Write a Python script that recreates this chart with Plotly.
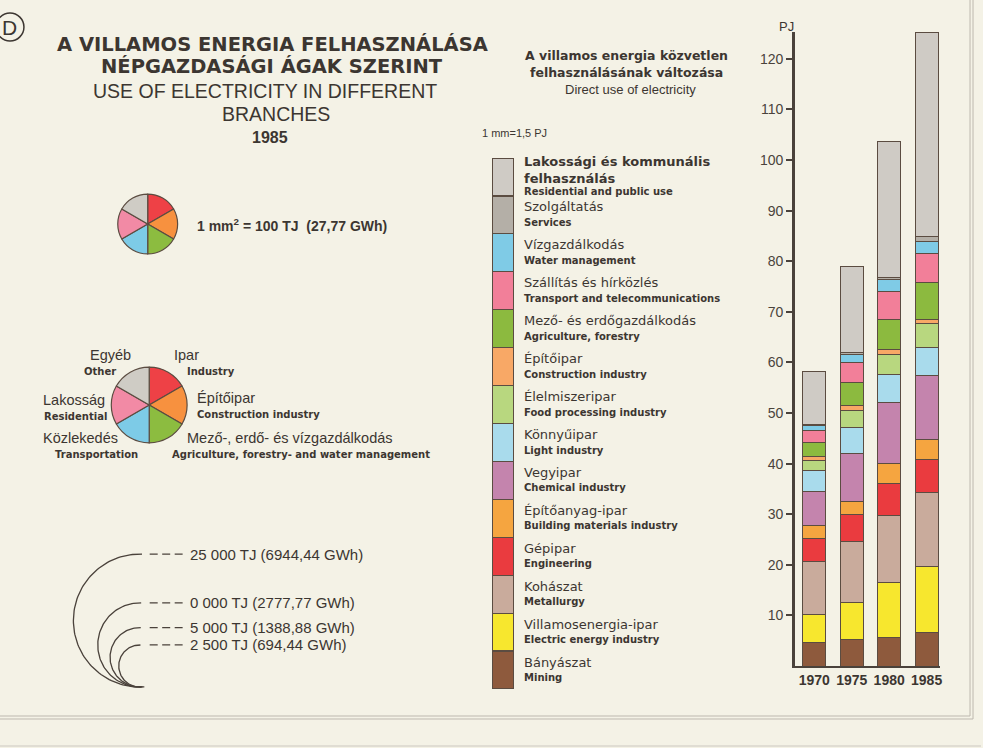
import numpy as np
import plotly.graph_objects as go

"""Data read off the chart"""

years = ["1970", "1975", "1980", "1985"]

# stacking order, bottom to top (PJ)
mining = [4.7, 5.25, 5.7, 6.6]
electric_energy = [5.5, 7.25, 10.8, 13.0]
metallurgy = [10.5, 12.2, 13.3, 14.7]
engineering = [4.5, 5.15, 6.3, 6.6]
building_materials = [2.5, 2.75, 4.0, 3.9]
chemical = [6.7, 9.3, 11.9, 12.6]
light_industry = [4.3, 5.2, 5.7, 5.6]
food_processing = [2.0, 3.3, 3.95, 4.7]
construction = [0.8, 1.0, 0.85, 0.85]
agriculture = [2.7, 4.6, 6.05, 7.15]
transport = [2.3, 4.0, 5.55, 5.8]
water = [1.0, 1.6, 2.3, 2.45]
services = [0.3, 0.3, 0.4, 0.95]
residential = [10.5, 17.1, 26.9, 40.4]

series = [mining, electric_energy, metallurgy, engineering, building_materials, chemical,
          light_industry, food_processing, construction, agriculture, transport, water,
          services, residential]

names_hu = ["Bányászat", "Villamosenergia-ipar", "Kohászat", "Gépipar", "Építőanyag-ipar",
            "Vegyipar", "Könnyűipar", "Élelmiszeripar", "Építőipar", "Mező- és erdőgazdálkodás",
            "Szállítás és hírközlés", "Vízgazdálkodás", "Szolgáltatás",
            "Lakossági és kommunális<br>felhasználás"]
names_en = ["Mining", "Electric energy industry", "Metallurgy", "Engineering",
            "Building materials industry", "Chemical industry", "Light industry",
            "Food processing industry", "Construction industry", "Agriculture, forestry",
            "Transport and telecommunications", "Water management", "Services",
            "Residential and public use"]
colors = ["#8e5a3d", "#f7e72e", "#c9ab9c", "#ea3b3f", "#f5a540", "#c484ad", "#a9dbec",
          "#b8d77f", "#f8a866", "#8cba3f", "#f27f99", "#7fcbe6", "#b4afa7", "#cfcbc5"]

y_ticks = [10, 20, 30, 40, 50, 60, 70, 80, 90, 100, 110, 120]

pie_hu = ["Ipar", "Építőipar", "Mező-, erdő- és vízgazdálkodás", "Közlekedés", "Lakosság", "Egyéb"]
pie_en = ["Industry", "Construction industry", "Agriculture, forestry- and water management",
          "Transportation", "Residential", "Other"]
pie_shares = [1, 1, 1, 1, 1, 1]
pie_colors = ["#ee4146", "#f7913f", "#8cbc40", "#7dcbe7", "#f28aa5", "#cfccc5"]

scale_tj = [25000, 10000, 5000, 2500]
scale_labels = ["25 000 TJ (6944,44 GWh)", "0 000 TJ (2777,77 GWh)",
                "5 000 TJ (1388,88 GWh)", "2 500 TJ (694,44 GWh)"]

W, H = 983, 748
BG = "#f4f2e6"
INK = "#3c3631"
EDGE = "#5b4c41"
FONT = "Liberation Sans, Arial, sans-serif"   # narrow grotesque
WIDE = "DejaVu Sans, Verdana, sans-serif"     # wider face, closer to the print
MM_PX = 7.45  # pixels per mm on the page


def px_x(x):
    return x / W


def px_y(y):
    return 1 - y / H


def text(x, y, s, size=13, bold=False, anchor="left", family=WIDE, color=INK):
    """Annotation placed in page pixels (overlay axis x2/y2)."""
    if bold:
        s = "<b>" + s + "</b>"
    return dict(x=x, y=y, xref="x2", yref="y2", text=s, showarrow=False, xanchor=anchor,
                yanchor="middle", align=anchor if anchor != "center" else "center",
                font=dict(family=family, size=size, color=color))


def key_text(y, s, size, bold):
    """Label next to the key strip, y given in strip units."""
    if bold:
        s = "<b>" + s + "</b>"
    return dict(x=px_x(523), y=y, xref="paper", yref="y3", text=s, showarrow=False,
                xanchor="left", yanchor="middle", align="left",
                font=dict(family=WIDE, size=size, color=INK))


fig = go.Figure()

# stacked bars
for vals, name, col in zip(series, names_hu, colors):
    fig.add_trace(go.Bar(x=years, y=vals, name=name, marker_color=col, width=0.61,
                         marker_line=dict(color=EDGE, width=1), xaxis="x", yaxis="y"))

# key strip: one unit per branch
for name, col in zip(names_hu, colors):
    fig.add_trace(go.Bar(x=[0], y=[1], name=name, marker_color=col, width=1,
                         marker_line=dict(color=EDGE, width=1.2), xaxis="x3", yaxis="y3"))

# pies
pie_style = dict(values=pie_shares, labels=pie_hu, sort=False, direction="clockwise",
                 rotation=0, textinfo="none", hoverinfo="label",
                 marker=dict(colors=pie_colors, line=dict(color=EDGE, width=1.2)))
fig.add_trace(go.Pie(domain=dict(x=[px_x(118), px_x(178)], y=[px_y(254), px_y(194)]), **pie_style))
fig.add_trace(go.Pie(domain=dict(x=[px_x(111.5), px_x(187.5)], y=[px_y(443), px_y(367)]), **pie_style))

# scale circles (left halves), all touching at the bottom point
cx, bottom = 140, 687
for tj in scale_tj:
    r = np.sqrt(tj / 100 / np.pi) * MM_PX
    t = np.radians(np.linspace(88, 274, 90))
    fig.add_trace(go.Scatter(x=cx + r * np.cos(t), y=(bottom - r) - r * np.sin(t), mode="lines",
                             line=dict(color="#4a423b", width=1.3), xaxis="x2", yaxis="y2",
                             hoverinfo="skip"))
    fig.add_trace(go.Scatter(x=[150, 183], y=[bottom - 2 * r] * 2, mode="lines",
                             line=dict(color="#4a423b", width=1.3, dash="8px,4.5px"),
                             xaxis="x2", yaxis="y2", hoverinfo="skip"))

ann = []
# titles
ann.append(text(273, 44, "A VILLAMOS ENERGIA FELHASZNÁLÁSA", 19.5, True, "center"))
ann.append(text(273, 66, "NÉPGAZDASÁGI ÁGAK SZERINT", 19.5, True, "center"))
ann.append(text(266, 91, "USE OF ELECTRICITY IN DIFFERENT", 19.5, False, "center", FONT))
ann.append(text(277, 114, "BRANCHES", 19.5, False, "center", FONT))
ann.append(text(271, 137, "1985", 16, True, "center", FONT))
ann.append(text(10, 27, "D", 21, False, "center", FONT))
ann.append(text(195, 225, "1 mm<sup>2</sup> = 100 TJ  (27,77 GWh)", 14, True, "left", FONT))

# labelled pie
pie_pos = [(172, "left", 185, "left"), (195, "left", 195, "left"), (185, "left", 170, "left"),
           (41, "left", 53, "left"), (41, "left", 42, "left"), (111, "center", 100, "center")]
pie_y = [355, 398, 438, 438, 400, 355]
for hu, en, (xh, ah, xe, ae), yy in zip(pie_hu, pie_en, pie_pos, pie_y):
    ann.append(text(xh, yy, hu, 14.5, False, ah, FONT))
    ann.append(text(xe, yy + 16, en, 10, True, ae))

# scale circle labels
for tj, lab in zip(scale_tj, scale_labels):
    r = np.sqrt(tj / 100 / np.pi) * MM_PX
    ann.append(text(188, bottom - 2 * r, lab, 15, False, "left", FONT))

# middle header
ann.append(text(628, 55, "A villamos energia közvetlen", 12.5, True, "center"))
ann.append(text(628, 72, "felhasználásának változása", 12.5, True, "center"))
ann.append(text(632, 89, "Direct use of electricity", 13, False, "center", FONT))
ann.append(text(481, 133, "1 mm=1,5 PJ", 11, False, "left", FONT))

# key labels, tied to strip units
for i, (hu, en) in enumerate(zip(names_hu, names_en)):
    if "<br>" in hu:
        ann.append(key_text(i + 0.68, hu, 13, True))
        ann.append(key_text(i + 0.12, en, 10, True))
    else:
        ann.append(key_text(i + 0.71, hu, 13, False))
        ann.append(key_text(i + 0.30, en, 10, True))

ann.append(text(788, 26, "PJ", 13, False, "center", FONT))

fig.update_layout(
    width=W, height=H, margin=dict(l=0, r=0, t=0, b=0),
    paper_bgcolor=BG, plot_bgcolor="rgba(0,0,0,0)",
    barmode="stack", showlegend=False, annotations=ann,
    font=dict(family=FONT, color=INK),
    xaxis=dict(domain=[px_x(796.5), px_x(942.4)], range=[-0.52, 3.37], type="category",
               showline=True, linecolor="#4a423b", linewidth=2, ticks="", showgrid=False,
               tickfont=dict(family=FONT, size=14, color=INK, weight="bold"),
               fixedrange=True, anchor="y"),
    yaxis=dict(domain=[px_y(666), px_y(32)], range=[0, 125.3], showline=True,
               linecolor="#4a423b", linewidth=2.5, ticks="outside", ticklen=6, tickwidth=1.5,
               tickcolor="#4a423b", tickvals=y_ticks, showgrid=False, zeroline=False,
               tickfont=dict(family=FONT, size=14, color="#4a433c"), fixedrange=True, anchor="x"),
    xaxis2=dict(domain=[0, 1], range=[0, W], visible=False, fixedrange=True, anchor="y2"),
    yaxis2=dict(domain=[0, 1], range=[H, 0], visible=False, fixedrange=True, anchor="x2"),
    xaxis3=dict(domain=[px_x(493), px_x(515)], range=[-0.5, 0.5], visible=False,
                fixedrange=True, anchor="y3"),
    yaxis3=dict(domain=[px_y(689), px_y(158)], range=[0, 14], visible=False,
                fixedrange=True, anchor="x3"),
    shapes=[
        dict(type="circle", xref="x2", yref="y2", x0=-4, x1=24, y0=13, y1=41,
             line=dict(color=INK, width=1.5)),
        dict(type="line", xref="x2", yref="y2", x0=972, x1=972, y0=0, y1=716,
             line=dict(color="#bdb8af", width=1)),
        dict(type="line", xref="x2", yref="y2", x0=975, x1=975, y0=0, y1=719,
             line=dict(color="#bdb8af", width=1)),
        dict(type="line", xref="x2", yref="y2", x0=0, x1=972, y0=716, y1=716,
             line=dict(color="#bdb8af", width=1)),
        dict(type="line", xref="x2", yref="y2", x0=0, x1=975, y0=719, y1=719,
             line=dict(color="#bdb8af", width=1)),
        dict(type="line", xref="x2", yref="y2", x0=0, x1=W, y0=746, y1=746,
             line=dict(color="#ccc8c0", width=1)),
    ],
)

# the page's default body margin would shift the figure by 8px
fig.write_html("out.html", config={"displayModeBar": False},
               post_script="document.body.style.margin='0px';")
